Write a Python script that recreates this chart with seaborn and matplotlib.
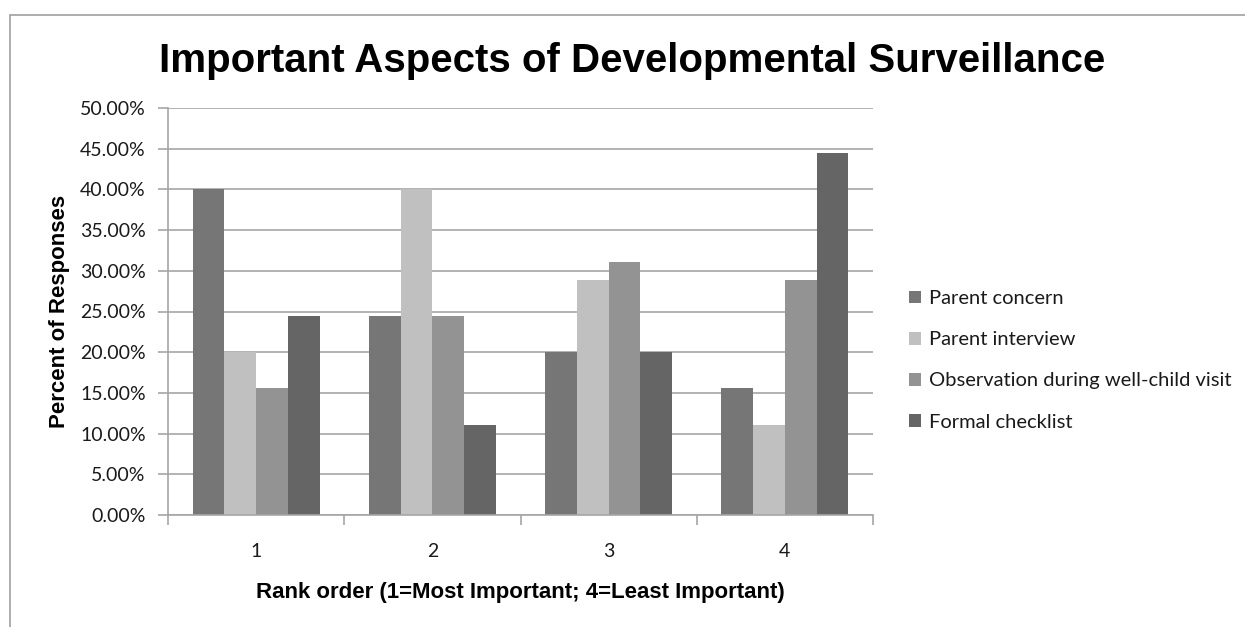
"""
Grouped bar chart: important aspects of developmental surveillance
"""
import numpy as np
import pandas as pd
import seaborn as sns
import matplotlib.pyplot as plt
from matplotlib.patches import Rectangle
from matplotlib.ticker import FuncFormatter

ranks = ["1", "2", "3", "4"]
parent_concern = [40.00, 24.44, 20.00, 15.56]
parent_interview = [20.00, 40.00, 28.89, 11.11]
observation = [15.56, 24.44, 31.11, 28.89]
formal_checklist = [24.44, 11.11, 20.00, 44.44]
series_names = ["Parent concern", "Parent interview",
                "Observation during well-child visit", "Formal checklist"]
colors = ["#767676", "#c0c0c0", "#939393", "#656565"]

df = pd.DataFrame({
    "rank": ranks * 4,
    "series": np.repeat(series_names, 4),
    "value": parent_concern + parent_interview + observation + formal_checklist,
})

sns.set_style("white")
plt.rcParams['font.family'] = ['Lato', 'DejaVu Sans']

fig = plt.figure(figsize=(12.45, 6.27), dpi=100)
ax = fig.add_axes([168 / 1245, 1 - 515 / 627, (873 - 168) / 1245, (515 - 108) / 627])

sns.barplot(data=df, x="rank", y="value", hue="series", hue_order=series_names,
            palette=colors, width=0.72, gap=0, saturation=1, ax=ax,
            edgecolor="none", linewidth=0, legend=True)

grid_c = "#a6a6a6"
ax.set_ylim(0, 50)
ax.set_xlim(-0.5, 3.5)
ax.set_yticks(np.arange(0, 51, 5))
ax.yaxis.set_major_formatter(FuncFormatter(lambda v, p: f"{v:.2f}%"))
ax.grid(axis="y", color=grid_c, linewidth=1.2)
ax.set_axisbelow(True)
for s in ["top", "right"]:
    ax.spines[s].set_visible(False)
for s in ["left", "bottom"]:
    ax.spines[s].set_color(grid_c)
    ax.spines[s].set_linewidth(1.2)

ax.tick_params(axis="y", length=7, color=grid_c, width=1.2, left=True,
               labelsize=14, labelcolor="#1a1a1a", pad=9)
ax.tick_params(axis="x", length=0, labelsize=14, labelcolor="#1a1a1a", pad=20)
# x ticks at the category boundaries
ax.set_xticks([-0.5, 0.5, 1.5, 2.5, 3.5], minor=True)
ax.tick_params(axis="x", which="minor", length=7, color=grid_c, width=1.2, bottom=True)

ax.set_xlabel("Rank order (1=Most Important; 4=Least Important)",
              family="Liberation Sans", fontweight="bold", fontsize=16,
              labelpad=16, color="black")
ax.set_ylabel("Percent of Responses", family="Liberation Sans",
              fontweight="bold", fontsize=16, labelpad=7, color="black")

fig.text(0.508, 1 - 61 / 627, "Important Aspects of Developmental Surveillance",
         family="Liberation Sans", fontweight="bold", fontsize=29,
         ha="center", va="center", color="black")

handles, labels = ax.get_legend_handles_labels()
ax.legend(handles, labels, loc="center left", bbox_to_anchor=(1.025, 0.38),
          frameon=False, fontsize=14.5, handlelength=0.6, handleheight=0.6,
          handletextpad=0.4, labelspacing=1.2, labelcolor="#1a1a1a")

# outer chart frame
fig.patches.append(Rectangle((10 / 1245, -0.1), 1.2, 1 - 15 / 627 + 0.1,
                             transform=fig.transFigure, fill=False,
                             edgecolor="#a0a0a0", linewidth=1.2))

fig.savefig("out.png", dpi=100)
